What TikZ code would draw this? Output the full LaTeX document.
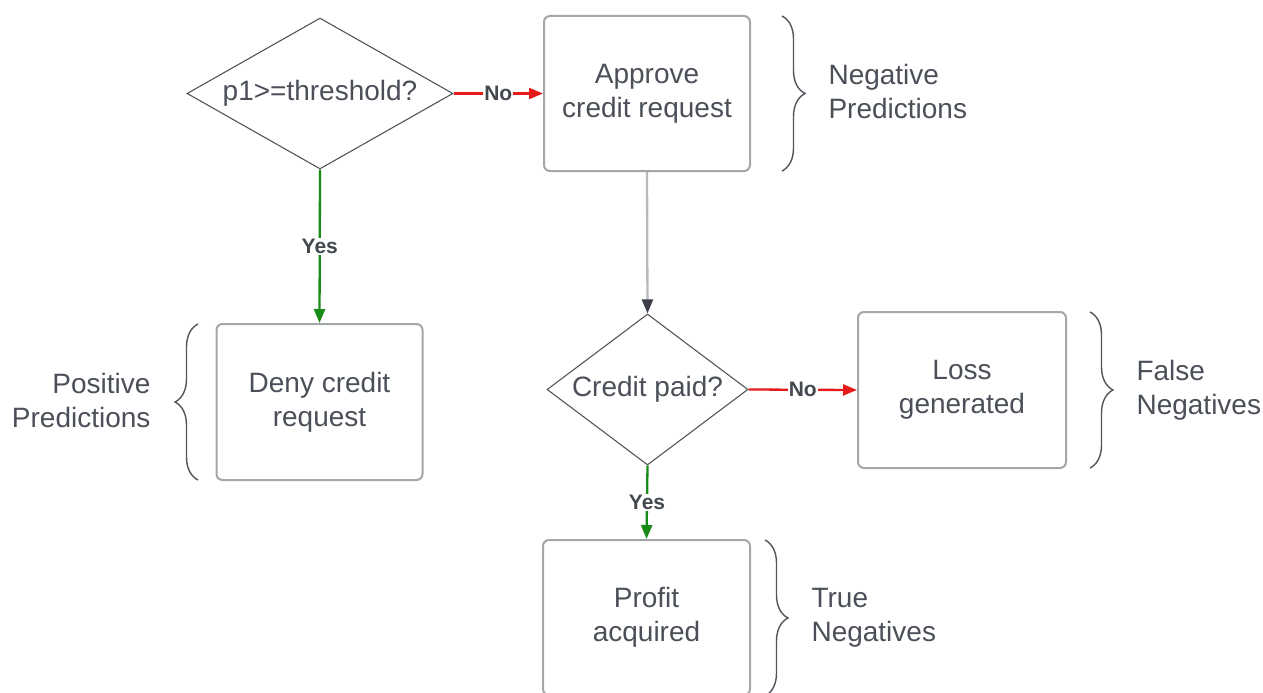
\documentclass[tikz,border=0pt]{standalone}
\usepackage{fontspec}
\setmainfont{Liberation Sans}
\usetikzlibrary{shapes.geometric,arrows.meta,decorations.pathreplacing}
\definecolor{txt}{HTML}{4B5058}
\definecolor{boxline}{HTML}{A3A6AB}
\definecolor{dline}{HTML}{50555C}
\definecolor{ared}{HTML}{E51B1B}
\definecolor{agreen}{HTML}{178A17}
\definecolor{agray}{HTML}{B8B9BB}
\definecolor{ahead}{HTML}{3A3F47}
\begin{document}
\begin{tikzpicture}[x=1pt,y=-1pt,
  every node/.style={text=txt,font=\fontsize{28}{34}\selectfont},
  procbox/.style={draw=boxline,line width=2pt,rounded corners=6pt,minimum width=206pt,minimum height=155pt,align=center,inner sep=0pt},
  decision/.style={draw=dline,line width=1.1pt,diamond,inner sep=0pt,align=center},
  brlabel/.style={align=left,anchor=west},
  arlabel/.style={fill=white,inner sep=1pt,text=txt!90!black,font=\bfseries\fontsize{21}{24}\selectfont},
  nolink/.style={draw=ared,line width=2.3pt,-{Triangle[length=14pt,width=11pt]}},
  yeslink/.style={draw=agreen,line width=2.3pt,-{Triangle[length=14pt,width=11pt]}},
  graylink/.style={draw=agray,line width=2.3pt,-{Triangle[length=14pt,width=11pt,color=ahead]}},
  bracestyle/.style={draw=dline,line width=1.4pt,decorate,decoration={brace,amplitude=23pt}}
]
\useasboundingbox (0,0) rectangle (1263,693);

\node[decision,aspect=1.762,minimum width=266pt,minimum height=151pt] (d1) at (320,93.5) {p1>=threshold?};
\node[procbox] (approve) at (647,93.5) {Approve\\credit request};
\node[procbox,minimum height=156pt] (deny) at (319.5,402) {Deny credit\\request};
\node[decision,aspect=1.331,minimum width=201pt,minimum height=151pt] (d2) at (647.5,389.5) {Credit paid?};
\node[procbox,minimum width=208pt,minimum height=156pt] (loss) at (962,390) {Loss\\generated};
\node[procbox,minimum width=207pt] (profit) at (646.5,617.5) {Profit\\acquired};

\draw[nolink] (d1.east) -- node[arlabel] {No} (approve.west);
\draw[yeslink] (d1.south) -- node[arlabel] {Yes} (deny.north);
\draw[graylink] (approve.south) -- (d2.north);
\draw[nolink] (d2.east) -- node[arlabel] {No} (loss.west);
\draw[yeslink] (d2.south) -- node[arlabel] {Yes} (profit.north);

\coordinate (b1t) at (782,16);
\coordinate (b1b) at (782,171);
\draw[bracestyle] (b1t) -- (b1b);
\node[brlabel] (negpred) at (825,91) {Negative\\Predictions};

\coordinate (b2t) at (198,324);
\coordinate (b2b) at (198,480);
\draw[bracestyle] (b2b) -- (b2t);
\node[align=right,anchor=east] (pospred) at (154,400) {Positive\\Predictions};

\coordinate (b3t) at (1090,312);
\coordinate (b3b) at (1090,468);
\draw[bracestyle] (b3t) -- (b3b);
\node[brlabel] (falseneg) at (1133,390) {False\\Negatives};

\coordinate (b4t) at (765,540);
\coordinate (b4b) at (765,696);
\draw[bracestyle] (b4t) -- (b4b);
\node[brlabel] (trueneg) at (808,618) {True\\Negatives};
\end{tikzpicture}
\end{document}
